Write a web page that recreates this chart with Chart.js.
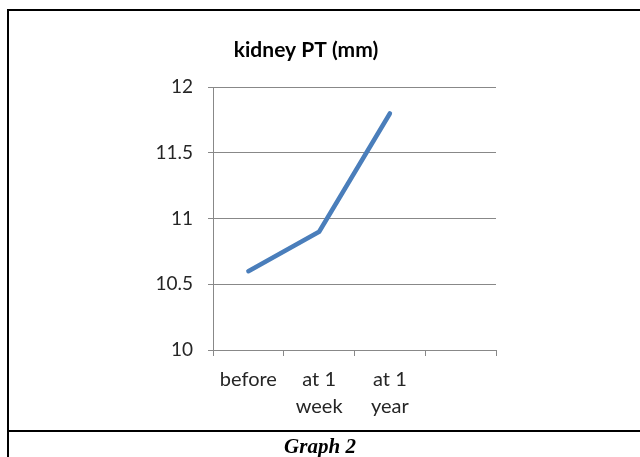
<!DOCTYPE html>
<html>
<head>
<meta charset="utf-8">
<script src="https://cdn.jsdelivr.net/npm/chart.js@4/dist/chart.umd.min.js"></script>
<style>
  html, body { margin: 0; padding: 0; background: #fff; }
  body { width: 640px; height: 457px; overflow: hidden; position: relative; }
  #frame { position: absolute; left: 7px; top: 9px; width: 700px; height: 520px;
           border-left: 2px solid #000; border-top: 2px solid #000; box-sizing: border-box; }
  #divider { position: absolute; left: 7px; top: 430px; width: 640px; height: 2px; background: #000; }
  #caption { position: absolute; left: 7px; width: 626px; top: 434px; text-align: center;
             font: italic bold 21px "Liberation Serif", serif; line-height: 24px; color: #000; }
  #wrap { position: absolute; left: 0; top: 0; width: 640px; height: 457px; }
</style>
</head>
<body>
<div id="frame"></div>
<div id="divider"></div>
<div id="wrap"><canvas id="c" width="640" height="457"></canvas></div>
<div id="caption">Graph 2</div>
<script>
const chartTitle = 'kidney PT (mm)';
const categories = [['before'], ['at 1', 'week'], ['at 1', 'year'], ''];
const kidneyPT = [10.6, 10.9, 11.8, null];
const yTickValues = [10, 10.5, 11, 11.5, 12];
const captionText = 'Graph 2';

document.getElementById('caption').textContent = captionText;

const gridColor = '#888888';
const textColor = '#262626';

new Chart(document.getElementById('c'), {
  type: 'line',
  data: {
    labels: categories,
    datasets: [{
      label: chartTitle,
      data: kidneyPT,
      borderColor: '#4A7EBB',
      backgroundColor: '#4A7EBB',
      borderWidth: 4.5,
      borderCapStyle: 'round',
      borderJoinStyle: 'round',
      pointRadius: 0,
      pointHoverRadius: 0,
      tension: 0,
      spanGaps: false
    }]
  },
  options: {
    responsive: false,
    animation: false,
    events: [],
    layout: { padding: { left: 116, right: 144, top: 0, bottom: 0 } },
    plugins: {
      legend: { display: false },
      tooltip: { enabled: false },
      title: {
        display: true,
        text: chartTitle,
        color: '#000',
        font: { family: 'Lato', size: 21, weight: 'bold', lineHeight: 1.2 },
        padding: { top: 38, bottom: 24 }
      }
    },
    scales: {
      x: {
        type: 'category',
        offset: true,
        grid: {
          display: true,
          offset: true,
          drawOnChartArea: false,
          drawTicks: true,
          tickLength: 6,
          color: gridColor,
          lineWidth: 1
        },
        border: { display: true, color: gridColor, width: 1 },
        ticks: {
          color: textColor,
          font: { family: 'Lato', size: 20, lineHeight: 1.35 },
          padding: 10,
          maxRotation: 0,
          minRotation: 0,
          autoSkip: false
        },
        afterFit: (s) => { s.height = 107; }
      },
      y: {
        min: 10,
        max: 12,
        afterBuildTicks: (s) => { s.ticks = yTickValues.map(v => ({ value: v })); },
        grid: {
          color: gridColor,
          lineWidth: 1,
          drawTicks: true,
          tickLength: 5
        },
        border: { display: true, color: gridColor, width: 1 },
        ticks: {
          color: textColor,
          font: { family: 'Lato', size: 19 },
          padding: 15,
          callback: (v) => String(v)
        },
        afterFit: (s) => { s.width = 97; }
      }
    }
  }
});
</script>
</body>
</html>
